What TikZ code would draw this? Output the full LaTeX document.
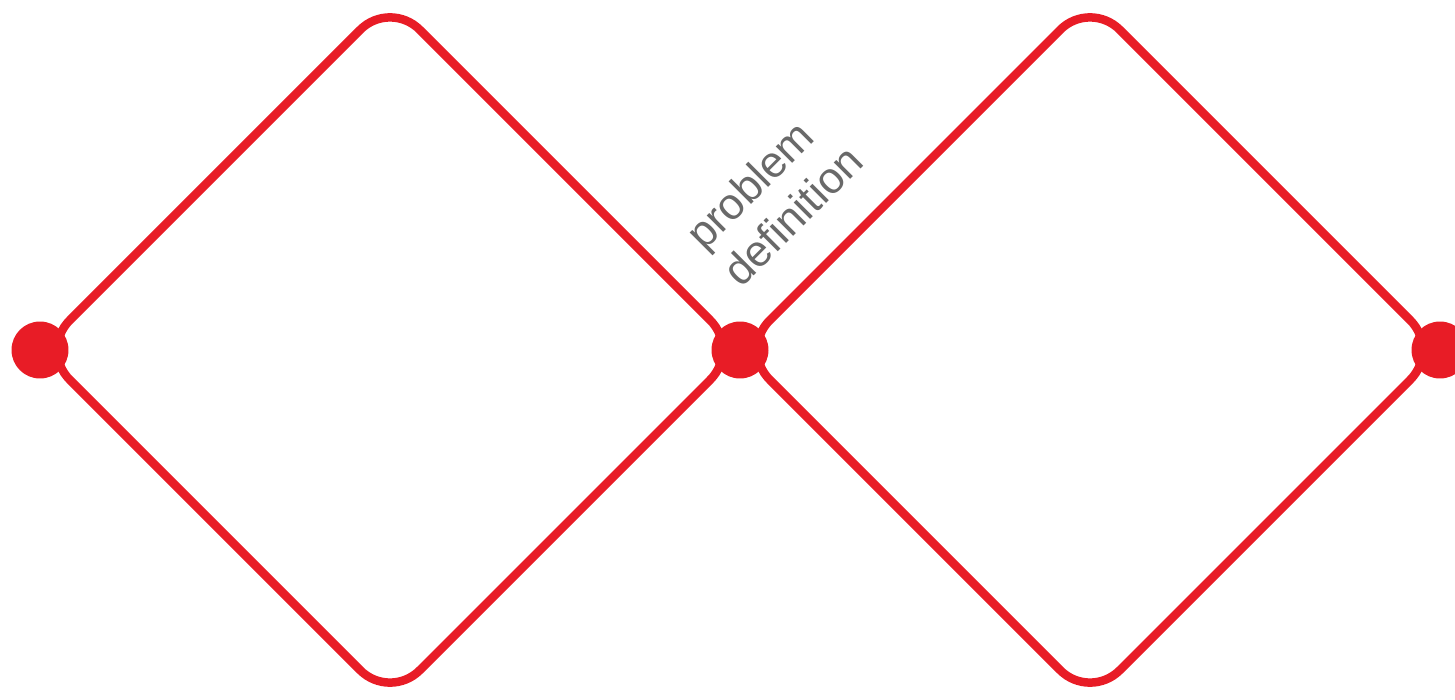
\documentclass[tikz,border=0pt]{standalone}
\usepackage{fontspec}
\setmainfont{Liberation Sans}
\definecolor{dred}{RGB}{232,28,38}
\definecolor{tgray}{RGB}{105,105,105}
\begin{document}
\begin{tikzpicture}[x=0.02cm,y=-0.02cm,
  edge/.style={draw=dred,line width=0.17cm,rounded corners=0.84cm,line join=round},
  dot/.style={circle,fill=dred,inner sep=0,minimum size=1.14cm},
  lbl/.style={text=tgray,font=\fontsize{25}{30}\selectfont,rotate=45,anchor=base west,inner sep=0}]
\useasboundingbox (0,0) rectangle (1455,700);
\coordinate (lt) at (390,0);
\coordinate (lb) at (390,700);
\coordinate (rt) at (1090,0);
\coordinate (rb) at (1090,700);
\coordinate (lv) at (40,350);
\coordinate (mv) at (740,350);
\coordinate (rv) at (1440,350);
\draw[edge] (lv) -- (lt) -- (mv) -- (lb) -- cycle;
\draw[edge] (mv) -- (rt) -- (rv) -- (rb) -- cycle;
\node[dot] (dl) at (lv) {};
\node[dot] (dm) at (mv) {};
\node[dot] (dr) at (rv) {};
\node[lbl] (t1) at (704,252) {problem};
\node[lbl] (t2) at (741,289) {definition};
\end{tikzpicture}
\end{document}
